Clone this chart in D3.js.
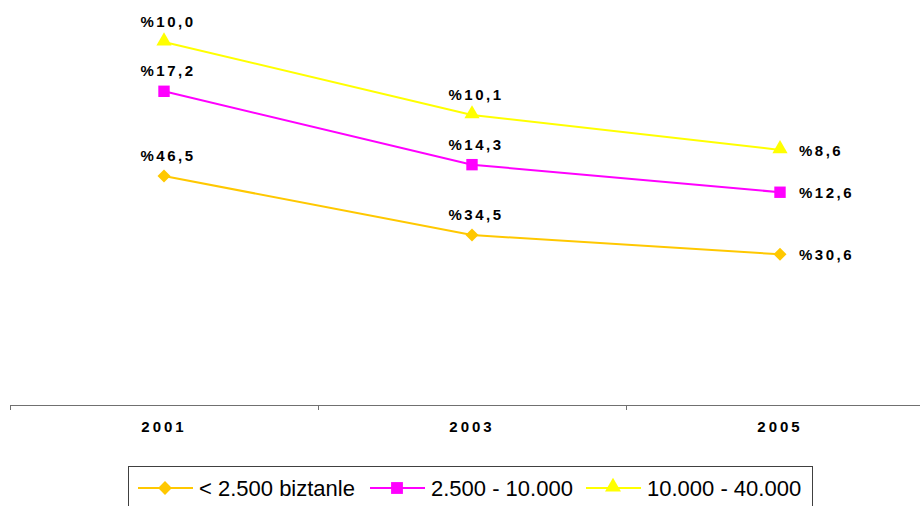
<!DOCTYPE html>
<html>
<head>
<meta charset="utf-8">
<script src="https://cdn.jsdelivr.net/npm/d3@7"></script>
<style>
  body { margin: 0; background: #fff; }
  svg { display: block; font-family: "Liberation Sans", Arial, sans-serif; }
</style>
</head>
<body>
<div id="chart"></div>
<script>
var years = ["2001", "2003", "2005"];
var seriesNames = ["< 2.500 biztanle", "2.500 - 10.000", "10.000 - 40.000"];
var small = [46.5, 34.5, 30.6];
var medium = [17.2, 14.3, 12.6];
var large = [10.0, 10.1, 8.6];
var colours = ["#FFC800", "#FF00FF", "#FFFF00"];
var shapes = [d3.symbolSquare, d3.symbolSquare, d3.symbolTriangle];
var rotate = [45, 0, 0];

function init() {
  var w = 920;
  var h = 506;

  var svg = d3.select("#chart")
    .append("svg")
    .attr("width", w)
    .attr("height", h);

  var x = d3.scaleBand()
    .domain(years)
    .range([10, 934]);

  // stacked lines, the top of each series is the running sum
  var y = d3.scaleLinear()
    .domain([0, 80])
    .range([405, 11]);

  var table = years.map(function(yr, i) {
    return { year: yr, s0: small[i], s1: medium[i], s2: large[i] };
  });
  var stack = d3.stack().keys(["s0", "s1", "s2"]);
  var layers = stack(table);

  // x axis
  var axis = d3.axisBottom(x).tickSize(0).tickPadding(16);
  var gx = svg.append("g")
    .attr("transform", "translate(0,405)")
    .call(axis);
  gx.select(".domain").attr("stroke", "#707070").attr("d", "M10,0.5H934");
  gx.selectAll("text")
    .style("font-size", "15px")
    .style("font-weight", "bold")
    .style("letter-spacing", "3px")
    .attr("fill", "#000");

  // tick marks between categories
  var bounds = years.map(function(yr) { return x(yr); });
  gx.selectAll(".sep")
    .data(bounds)
    .enter()
    .append("line")
    .attr("x1", function(d) { return d + 0.5; })
    .attr("x2", function(d) { return d + 0.5; })
    .attr("y1", 0)
    .attr("y2", 5)
    .attr("stroke", "#707070");

  var cx = function(i) { return x(years[i]) + x.bandwidth() / 2; };

  var line = d3.line()
    .x(function(d, i) { return cx(i); })
    .y(function(d) { return y(d[1]); });

  var values = [small, medium, large];
  var sizes = [85, 130, 100];

  layers.forEach(function(layer, k) {
    svg.append("path")
      .datum(layer)
      .attr("d", line)
      .attr("fill", "none")
      .attr("stroke", colours[k])
      .attr("stroke-width", 2);

    var sym = d3.symbol().type(shapes[k]).size(sizes[k]);
    svg.selectAll(".m" + k)
      .data(layer)
      .enter()
      .append("path")
      .attr("d", sym)
      .attr("transform", function(d, i) {
        return "translate(" + cx(i) + "," + (y(d[1]) - (k == 2 ? 1 : 0)) + ") rotate(" + rotate[k] + ")";
      })
      .attr("fill", colours[k]);

    svg.selectAll(".l" + k)
      .data(layer)
      .enter()
      .append("text")
      .attr("x", function(d, i) { return i < 2 ? cx(i) + 4 : cx(i) + 19; })
      .attr("y", function(d, i) { return i < 2 ? y(d[1]) - 15 : y(d[1]) + 6; })
      .attr("text-anchor", function(d, i) { return i < 2 ? "middle" : "start"; })
      .style("font-size", "15px")
      .style("font-weight", "bold")
      .style("letter-spacing", "2.5px")
      .text(function(d, i) { return "%" + values[k][i].toFixed(1).replace(".", ","); });
  });

  // legend
  var legend = svg.append("g");
  legend.append("rect")
    .attr("x", 128.5)
    .attr("y", 466.5)
    .attr("width", 684)
    .attr("height", 50)
    .attr("fill", "#fff")
    .attr("stroke", "#404040");

  var legX = [138, 370, 586];
  seriesNames.forEach(function(name, k) {
    var g = legend.append("g").attr("transform", "translate(" + legX[k] + ",488)");
    g.append("line")
      .attr("x1", 0).attr("x2", 55)
      .attr("stroke", colours[k])
      .attr("stroke-width", 2);
    g.append("path")
      .attr("d", d3.symbol().type(shapes[k]).size(sizes[k] + 10))
      .attr("transform", "translate(27," + (k == 2 ? -1 : 0) + ") rotate(" + rotate[k] + ")")
      .attr("fill", colours[k]);
    g.append("text")
      .attr("x", 61)
      .attr("y", 8)
      .style("font-size", "22px")
      .attr("fill", "#000")
      .text(name);
  });
}

window.onload = init;
</script>
</body>
</html>
